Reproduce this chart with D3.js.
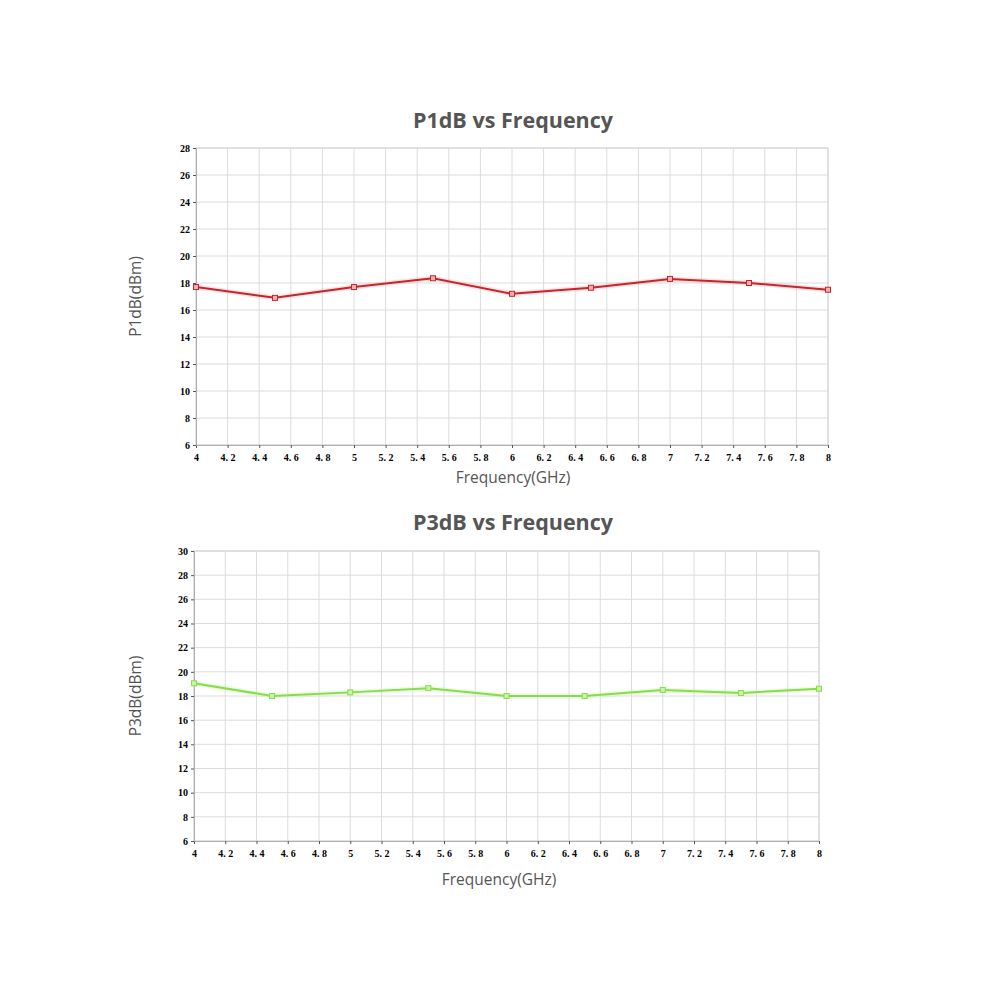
<!DOCTYPE html>
<meta charset="utf-8">
<style>
body { margin: 0; background: #fff; }
.title { font-family: "Open Sans", sans-serif; font-weight: bold; font-size: 21.5px; fill: #555; }
.axlabel { font-family: "Open Sans", sans-serif; font-size: 15.5px; fill: #555; }
.tick text { font-family: "Liberation Serif", serif; font-weight: bold; font-size: 10px; fill: #000; }
.grid line { stroke: #dcdcdc; }
</style>
<svg width="1000" height="1000"></svg>
<script src="https://d3js.org/d3.v7.min.js"></script>
<script>

var freq = [4, 4.5, 5, 5.5, 6, 6.5, 7, 7.5, 8];
var p1db = [17.7, 16.9, 17.7, 18.35, 17.2, 17.65, 18.3, 18.0, 17.5];
var p3db = [19.05, 18.0, 18.3, 18.65, 18.0, 18.0, 18.5, 18.25, 18.6];
var xTicks = d3.range(4, 8.01, 0.2).map(function(d){ return +d.toFixed(1); });
var p1Ticks = d3.range(6, 29, 2);
var p3Ticks = d3.range(6, 31, 2);

var svg = d3.select("svg");

function drawChart(o) {
  var g = svg.append("g").attr("transform", "translate(" + o.left + "," + o.top + ")");
  var width = o.width, height = o.height;

  var x = d3.scaleLinear().domain([4, 8]).range([0, width]);
  var y = d3.scaleLinear().domain(o.yDomain).range([height, 0]);

  // grid
  g.append("g").attr("class", "grid")
    .selectAll("line.v").data(xTicks).enter().append("line")
    .attr("x1", function(d){ return x(d); }).attr("x2", function(d){ return x(d); })
    .attr("y1", 0).attr("y2", height);
  g.append("g").attr("class", "grid")
    .selectAll("line.h").data(o.yTicks).enter().append("line")
    .attr("y1", function(d){ return y(d); }).attr("y2", function(d){ return y(d); })
    .attr("x1", 0).attr("x2", width);

  g.append("rect").attr("width", width).attr("height", height)
    .attr("fill", "none").attr("stroke", "#d4d4d4");

  var xa = g.append("g").attr("transform", "translate(0," + height + ")")
    .call(d3.axisBottom(x).tickValues(xTicks).tickSize(3).tickPadding(4)
      .tickFormat(function(d){ return String(d).split("").join(" ").replace(" . ", ". "); }));
  var ya = g.append("g")
    .call(d3.axisLeft(y).tickValues(o.yTicks).tickSize(3).tickPadding(3));
  [xa, ya].forEach(function(a){
    a.select(".domain").attr("stroke", "#b0b0b0");
    a.selectAll(".tick line").attr("stroke", "#555");
  });
  xa.selectAll(".tick text").attr("dy", "0.9em");

  var line = d3.line().x(function(d, i){ return x(freq[i]); }).y(function(d){ return y(d); });
  g.append("path").datum(o.values)
    .attr("fill", "none").attr("stroke", o.glow).attr("stroke-width", 5).attr("opacity", 0.35)
    .attr("d", line);
  g.append("path").datum(o.values)
    .attr("fill", "none").attr("stroke", o.color).attr("stroke-width", 2)
    .attr("d", line);
  g.selectAll("rect.m").data(o.values).enter().append("rect")
    .attr("x", function(d, i){ return x(freq[i]) - 2.5; })
    .attr("y", function(d){ return y(d) - 2.5; })
    .attr("width", 5).attr("height", 5)
    .attr("fill", o.glow).attr("stroke", o.color).attr("stroke-width", 1);

  svg.append("text").attr("class", "title")
    .attr("x", o.titleX).attr("y", o.titleY).attr("text-anchor", "middle").text(o.title);
  svg.append("text").attr("class", "axlabel")
    .attr("transform", "translate(" + o.ylabX + "," + (o.top + height / 2) + ") rotate(-90)")
    .attr("text-anchor", "middle").text(o.ylabel);
  svg.append("text").attr("class", "axlabel")
    .attr("x", o.xlabX).attr("y", o.xlabY).attr("text-anchor", "middle").text("Frequency(GHz)");
}

drawChart({
  left: 196, top: 148, width: 632, height: 297,
  yDomain: [6, 28], yTicks: p1Ticks, values: p1db,
  color: "#c4262b", glow: "#f4b0b0",
  title: "P1dB vs Frequency", titleX: 513, titleY: 128,
  ylabel: "P1dB(dBm)", ylabX: 141, xlabX: 513, xlabY: 483
});

drawChart({
  left: 194, top: 551, width: 625, height: 290,
  yDomain: [6, 30], yTicks: p3Ticks, values: p3db,
  color: "#86dc4a", glow: "#c8f4a8",
  title: "P3dB vs Frequency", titleX: 513, titleY: 530,
  ylabel: "P3dB(dBm)", ylabX: 141, xlabX: 499, xlabY: 885
});

</script>
